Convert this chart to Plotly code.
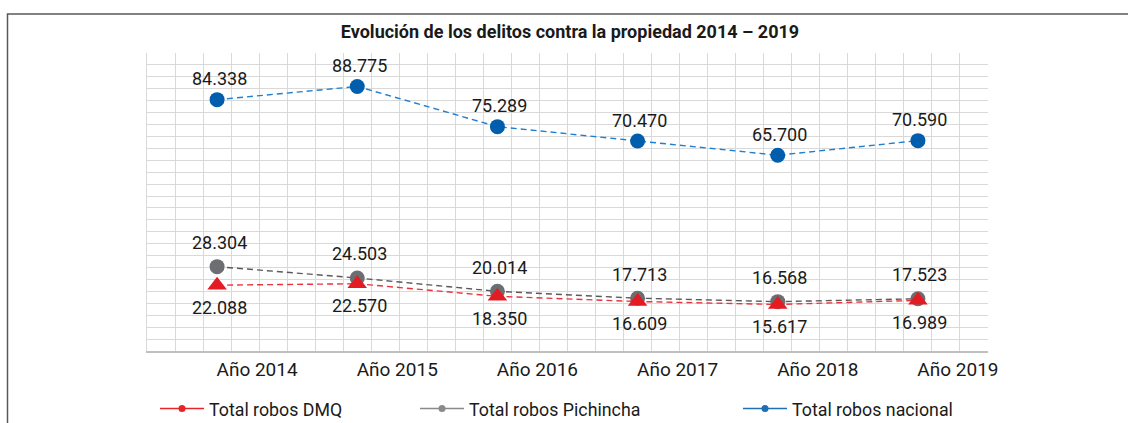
import plotly.graph_objects as go

categories = ["Año 2014", "Año 2015", "Año 2016", "Año 2017", "Año 2018", "Año 2019"]
dmq = [22088, 22570, 18350, 16609, 15617, 16989]
pichincha = [28304, 24503, 20014, 17713, 16568, 17523]
nacional = [84338, 88775, 75289, 70470, 65700, 70590]
series_names = ["Total robos DMQ", "Total robos Pichincha", "Total robos nacional"]
title_text = "Evolución de los delitos contra la propiedad 2014 – 2019"

FONT = "Roboto, sans-serif"
TXT = "#1a1a1a"

def fmt(v):
    return f"{v:,}".replace(",", ".")

x = list(range(len(categories)))

fig = go.Figure()

fig.add_trace(go.Scatter(
    x=x, y=pichincha, mode="lines+markers",
    line=dict(color="#5a5a5a", width=1.4, dash="6px,4px"),
    marker=dict(symbol="circle", size=15, color="#6d6e71"),
    showlegend=False, cliponaxis=False))
fig.add_trace(go.Scatter(
    x=x, y=dmq, mode="lines+markers",
    line=dict(color="#e8343c", width=1.4, dash="6px,4px"),
    marker=dict(symbol="triangle-up", size=17, color="#e31b23"),
    showlegend=False, cliponaxis=False))
fig.add_trace(go.Scatter(
    x=x, y=nacional, mode="lines+markers",
    line=dict(color="#1f7fd0", width=1.4, dash="6px,4px"),
    marker=dict(symbol="circle", size=15, color="#005eac"),
    showlegend=False, cliponaxis=False))

# data labels (yshift > 0 moves up)
annotations = []
for vals, shift in ((pichincha, 24), (dmq, -22), (nacional, 21)):
    for xi, v in zip(x, vals):
        annotations.append(dict(x=xi, y=v, xref="x", yref="y", text=fmt(v),
                                showarrow=False, yshift=shift, xshift=2,
                                font=dict(family=FONT, size=18, color=TXT)))

legend_colors = ["#e52528", "#8a8a8a", "#1f6fb5"]
legend_ids = ["legend", "legend2", "legend3"]
for name, col, lid in zip(series_names, legend_colors, legend_ids):
    fig.add_trace(go.Scatter(
        x=[None], y=[None], mode="lines+markers", name=name,
        line=dict(color=col, width=1.5), marker=dict(size=7, color=col),
        legend=lid, showlegend=True))

W, H = 1128, 423
L, R, T, B = 147, 140, 53, 72
pw, ph = W - L - R, H - T - B

def px_x(p):
    return (p - L) / pw

def px_y(p):
    return (H - B - p) / ph

legend_common = dict(orientation="h", yanchor="middle", xanchor="left",
                     xref="container", yref="container",
                     font=dict(family=FONT, size=17.8, color=TXT),
                     bgcolor="rgba(0,0,0,0)", itemwidth=44)

fig.update_layout(
    width=W, height=H,
    margin=dict(l=L, r=R, t=T, b=B, autoexpand=False),
    paper_bgcolor="white", plot_bgcolor="white",
    title=dict(text=f"<b>{title_text}</b>", x=570 / W, xanchor="center",
               y=1 - 32 / H, yanchor="middle", xref="container", yref="container",
               font=dict(family=FONT, size=18, color=TXT)),
    legend=dict(x=155 / W, y=1 - 409 / H, **legend_common),
    legend2=dict(x=415 / W, y=1 - 409 / H, **legend_common),
    legend3=dict(x=738 / W, y=1 - 409 / H, **legend_common),
    annotations=annotations,
    xaxis=dict(range=[-0.5, 5.5], tickvals=x, ticktext=categories,
               showgrid=False, zeroline=False, showline=True,
               linecolor="#bfbfbf", linewidth=1.5,
               ticks="", ticklabelshift=40,
               tickfont=dict(family=FONT, size=19, color=TXT),
               minor=dict(tick0=-0.5, dtick=0.2, showgrid=True,
                          gridcolor="#d9d9d9", gridwidth=1.3)),
    yaxis=dict(range=[0, 100000], dtick=4000, showticklabels=False,
               showgrid=True, gridcolor="#d9d9d9", gridwidth=1.3,
               zeroline=False, showline=True, linecolor="#d9d9d9", linewidth=1.3),
    shapes=[dict(type="rect", xref="paper", yref="paper",
                 x0=px_x(7.5), x1=px_x(1140), y0=px_y(440), y1=px_y(14),
                 line=dict(color="#595959", width=1.5), layer="below")],
)

fig.write_html("out.html", config={"displayModeBar": False},
               post_script="document.body.style.margin='0';")
